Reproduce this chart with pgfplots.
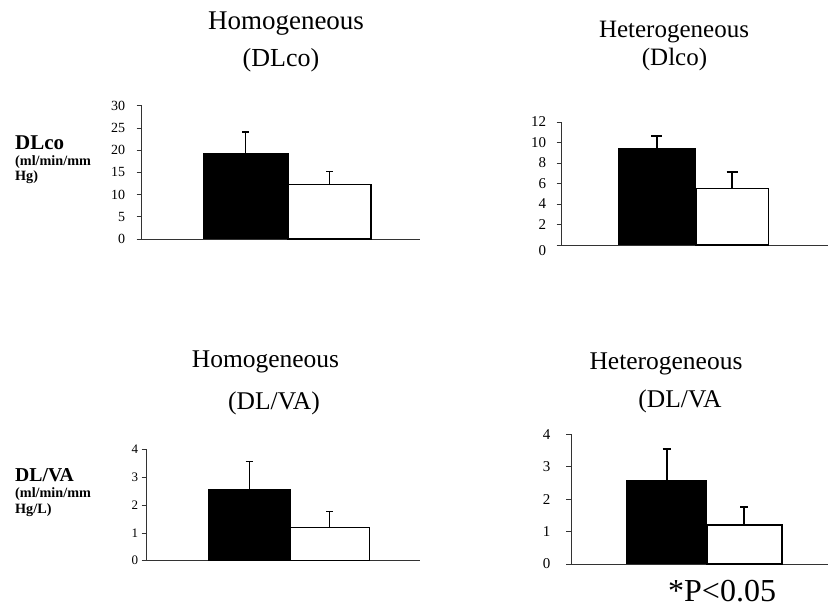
\documentclass[border=0pt]{standalone}
\usepackage{fontspec}
\setmainfont{Liberation Serif}
\usepackage{pgfplots}
\pgfplotsset{compat=1.18}
\pgfplotsset{
  panel/.style={
    scale only axis,
    anchor=south west,
    axis x line*=bottom,
    axis y line*=left,
    axis line style={-, line width=0.6pt, black!80},
    xmin=0, ymin=0,
    xtick=\empty,
    tick align=outside,
    major tick length=5pt,
    ytick style={line width=0.6pt, black!80},
    /pgf/number format/assume math mode=true,
    clip=false,
  },
  errstyle/.style={
    error bars/y dir=plus, error bars/y explicit,
    error bars/error bar style={line width=#1, black},
    error bars/error mark options={rotate=90, mark size=3.5pt, line width=#1}},
  blackbar/.style={ybar, bar shift=0pt, fill=black, draw=black, line width=1pt},
  whitebar/.style={ybar, bar shift=0pt, fill=white, draw=black, line width=1.1pt},
}
\begin{document}
\begin{tikzpicture}
\useasboundingbox (0pt,0pt) rectangle (828pt,609pt);

% Panel 1: Homogeneous DLco
\begin{axis}[panel, at={(141.7pt,370pt)}, width=278.3pt, height=133.3pt,
  xmax=278.3, ymax=30, ytick={0,5,...,30},
  yticklabel style={font=\fontsize{14}{14}\selectfont, xshift=-8pt}]
\addplot[blackbar, bar width=85, errstyle=1.3pt] coordinates {(103.8,19.3) +- (0,4.8)};
\addplot[whitebar, bar width=83, errstyle=1.3pt] coordinates {(187.8,12.3) +- (0,2.9)};
\end{axis}

% Panel 2: Heterogeneous Dlco
\begin{axis}[panel, at={(561.7pt,364pt)}, width=266.3pt, height=123pt,
  xmax=266.3, ymax=12, ytick={2,4,...,12},
  extra y ticks={0}, extra y tick style={yticklabel style={yshift=-6pt}},
  yticklabel style={font=\fontsize{15}{15}\selectfont, xshift=-7pt}]
\addplot[blackbar, bar width=77.7, errstyle=1.9pt,
  error bars/error mark options={rotate=90, mark size=5.5pt, line width=1.9pt}]
  coordinates {(95.15,9.37) +- (0,1.23)};
\addplot[whitebar, bar width=72.6, line width=1.6pt, errstyle=1.9pt,
  error bars/error mark options={rotate=90, mark size=5.5pt, line width=1.9pt}]
  coordinates {(170.3,5.5) +- (0,1.65)};
\end{axis}

% Panel 3: Homogeneous DL/VA
\begin{axis}[panel, at={(146.7pt,48.3pt)}, width=273.3pt, height=111.4pt,
  xmax=273.3, ymax=4, ytick={0,1,...,4},
  yticklabel style={font=\fontsize{13}{13}\selectfont, xshift=0pt}]
\addplot[blackbar, bar width=81.7, errstyle=1.3pt] coordinates {(102.45,2.55) +- (0,1.01)};
\addplot[whitebar, bar width=79.3, errstyle=1.3pt] coordinates {(182.95,1.19) +- (0,0.57)};
\end{axis}

% Panel 4: Heterogeneous DL/VA
\begin{axis}[panel, at={(571pt,45pt)}, width=257pt, height=129.7pt,
  xmax=257, ymax=4, ytick={0,1,...,4},
  yticklabel style={font=\fontsize{15}{15}\selectfont, xshift=-12pt}]
\addplot[blackbar, bar width=80, errstyle=1.9pt,
  error bars/error mark options={rotate=90, mark size=4pt, line width=1.9pt}]
  coordinates {(95.7,2.59) +- (0,0.95)};
\addplot[whitebar, bar width=75, line width=1.6pt, errstyle=1.9pt,
  error bars/error mark options={rotate=90, mark size=4pt, line width=1.9pt}]
  coordinates {(173.2,1.2) +- (0,0.55)};
\end{axis}

% Titles
\node[anchor=base, font=\fontsize{27}{30}\selectfont] at (286pt,579pt) {Homogeneous};
\node[anchor=base, font=\fontsize{26}{30}\selectfont] at (281pt,542pt) {(DLco)};
\node[anchor=base, font=\fontsize{25}{30}\selectfont] at (674pt,571pt) {Heterogeneous};
\node[anchor=base, font=\fontsize{25}{30}\selectfont] at (674.5pt,543pt) {(Dlco)};
\node[anchor=base, font=\fontsize{25.5}{30}\selectfont] at (265.5pt,241pt) {Homogeneous};
\node[anchor=base, font=\fontsize{25.5}{30}\selectfont] at (274pt,199pt) {(DL/VA)};
\node[anchor=base, font=\fontsize{25.5}{30}\selectfont] at (666pt,239pt) {Heterogeneous};
\node[anchor=base, font=\fontsize{25.5}{30}\selectfont] at (680pt,201pt) {(DL/VA};

% Left labels
\node[anchor=base west, inner sep=0pt, font=\bfseries\fontsize{21}{24}\selectfont] at (15pt,459pt) {DLco};
\node[anchor=base west, inner sep=0pt, font=\bfseries\fontsize{14.2}{15}\selectfont] at (15pt,443pt) {(ml/min/mm};
\node[anchor=base west, inner sep=0pt, font=\bfseries\fontsize{14.2}{15}\selectfont] at (15pt,428pt) {Hg)};
\node[anchor=base west, inner sep=0pt, font=\bfseries\fontsize{19.7}{24}\selectfont] at (15pt,127pt) {DL/VA};
\node[anchor=base west, inner sep=0pt, font=\bfseries\fontsize{14.2}{15}\selectfont] at (15pt,111pt) {(ml/min/mm};
\node[anchor=base west, inner sep=0pt, font=\bfseries\fontsize{14.2}{15}\selectfont] at (15pt,95pt) {Hg/L)};

% Significance note
\node[anchor=base west, inner sep=0pt, font=\fontsize{32}{36}\selectfont] at (668pt,7pt) {*P<0.05};
\end{tikzpicture}
\end{document}
